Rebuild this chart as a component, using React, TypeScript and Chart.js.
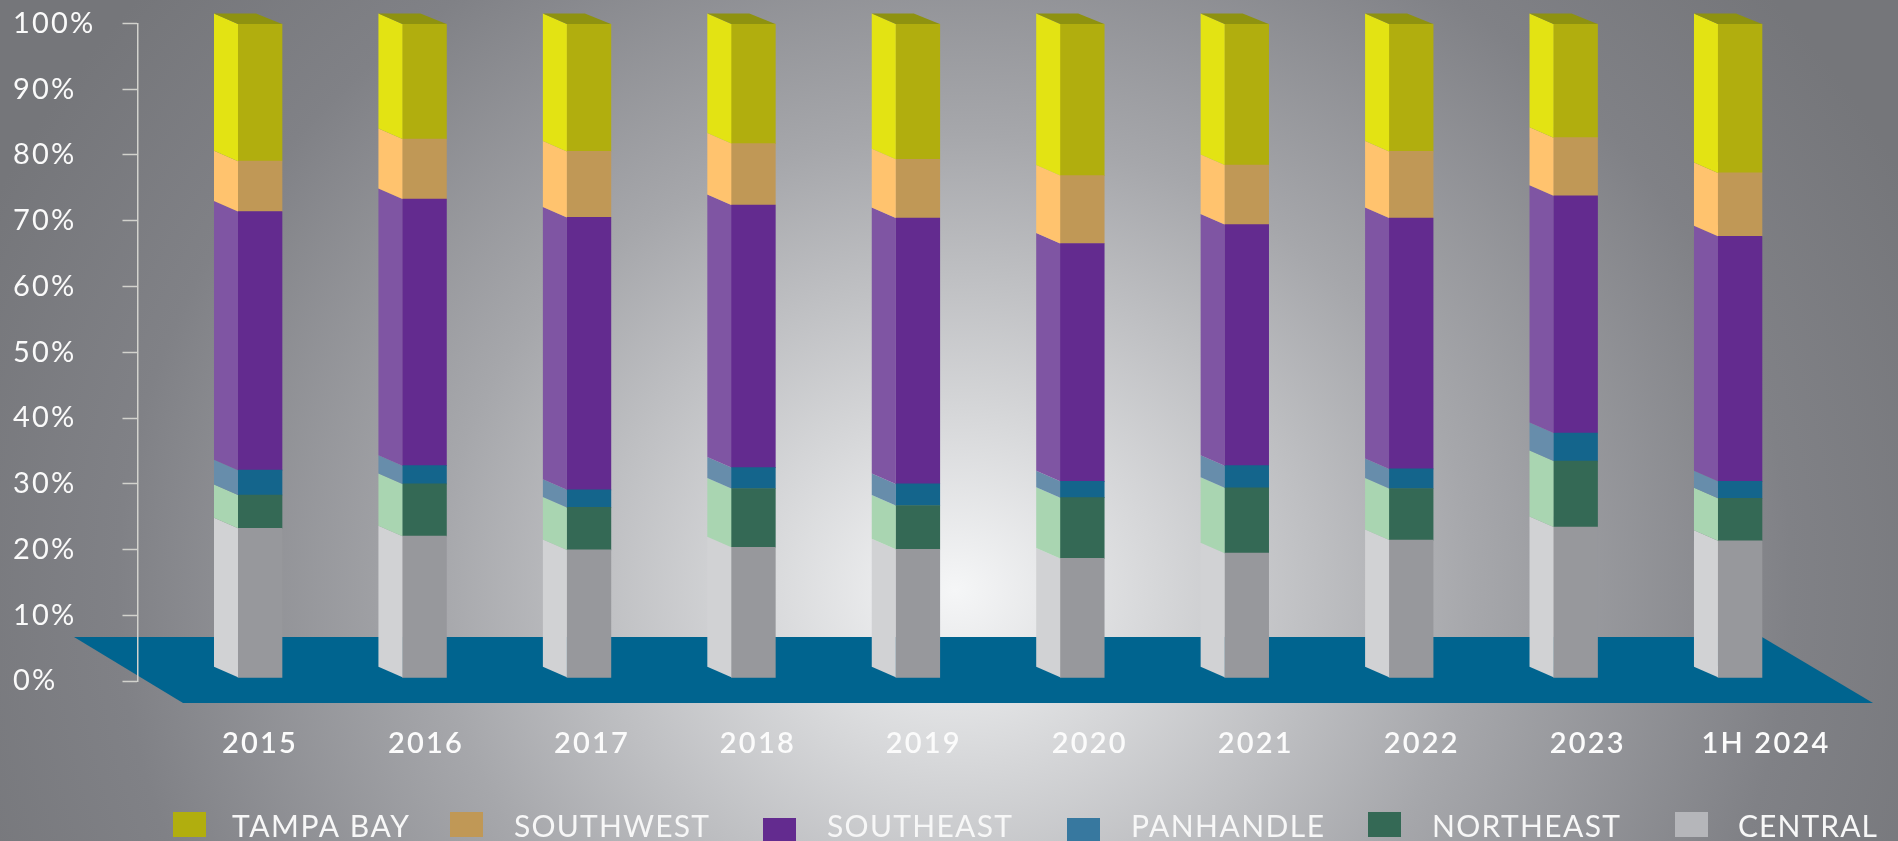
import React, { useEffect, useRef } from "react";
import { Chart, registerables } from "chart.js";

Chart.register(...registerables);

const categories = ["2015", "2016", "2017", "2018", "2019", "2020", "2021", "2022", "2023", "1H 2024"];
const central = [22.8, 21.6, 19.5, 19.9, 19.6, 18.2, 19.0, 21.0, 23.0, 20.9];
const northeast = [5.1, 8.0, 6.5, 9.0, 6.7, 9.3, 10.0, 7.9, 10.1, 6.5];
const panhandle = [3.8, 2.8, 2.7, 3.2, 3.3, 2.5, 3.4, 3.0, 4.3, 2.6];
const southeast = [39.6, 40.8, 41.7, 40.2, 40.7, 36.4, 36.9, 38.4, 36.3, 37.5];
const southwest = [7.7, 9.2, 10.1, 9.4, 9.0, 10.4, 9.1, 10.2, 8.9, 9.7];
const tampaBay = [21.0, 17.6, 19.5, 18.3, 20.7, 23.2, 21.6, 19.5, 17.4, 22.8];

const W = 1898;
const H = 841;
const SIDE_DX = 24;
const SIDE_DY = 10.5;

const series = [
  { label: "CENTRAL", values: central, front: "#97989c", side: "#d1d2d4" },
  { label: "NORTHEAST", values: northeast, front: "#346955", side: "#a9d5b1" },
  { label: "PANHANDLE", values: panhandle, front: "#14658c", side: "#678dab" },
  { label: "SOUTHEAST", values: southeast, front: "#632b8f", side: "#7f55a3" },
  { label: "SOUTHWEST", values: southwest, front: "#c09856", side: "#ffc36e" },
  { label: "TAMPA BAY", values: tampaBay, front: "#b1ae0e", side: "#e3e313" },
];

const legendLayout = [
  { text: "TAMPA BAY", color: "#b1ae0e", sx: 173, sy: 812, tx: 232, tw: 177 },
  { text: "SOUTHWEST", color: "#c09856", sx: 450, sy: 812, tx: 514, tw: 195 },
  { text: "SOUTHEAST", color: "#632b8f", sx: 763, sy: 818, tx: 827, tw: 185 },
  { text: "PANHANDLE", color: "#37789f", sx: 1067, sy: 818, tx: 1131, tw: 193 },
  { text: "NORTHEAST", color: "#346955", sx: 1368, sy: 812, tx: 1432, tw: 188 },
  { text: "CENTRAL", color: "#b5b6ba", sx: 1675, sy: 812, tx: 1738, tw: 139 },
];

const prism = {
  id: "prism",
  beforeDraw(chart: any) {
    const { ctx } = chart;
    ctx.save();
    ctx.fillStyle = "#00648f";
    ctx.beginPath();
    ctx.moveTo(74, 637);
    ctx.lineTo(1762, 637);
    ctx.lineTo(1873, 703);
    ctx.lineTo(183, 703);
    ctx.closePath();
    ctx.fill();
    ctx.restore();
    ctx.letterSpacing = "2.2px";
  },
  afterDatasetsDraw(chart: any) {
    const { ctx } = chart;
    ctx.save();
    chart.data.datasets.forEach((ds: any, di: number) => {
      chart.getDatasetMeta(di).data.forEach((bar: any) => {
        const left = bar.x - bar.width / 2;
        const right = bar.x + bar.width / 2;
        ctx.fillStyle = series[di].side;
        ctx.beginPath();
        ctx.moveTo(left - SIDE_DX, bar.y - SIDE_DY);
        ctx.lineTo(left, bar.y);
        ctx.lineTo(left, bar.base);
        ctx.lineTo(left - SIDE_DX, bar.base - SIDE_DY);
        ctx.closePath();
        ctx.fill();
        if (di === chart.data.datasets.length - 1) {
          ctx.fillStyle = "#8e9210";
          ctx.beginPath();
          ctx.moveTo(left - SIDE_DX, bar.y - SIDE_DY);
          ctx.lineTo(right - SIDE_DX - 2, bar.y - SIDE_DY);
          ctx.lineTo(right, bar.y);
          ctx.lineTo(left, bar.y);
          ctx.closePath();
          ctx.fill();
        }
      });
    });
    ctx.restore();
  },
  afterDraw(chart: any) {
    const { ctx } = chart;
    ctx.save();
    ctx.textAlign = "left";
    ctx.textBaseline = "alphabetic";
    ctx.font = '400 30px Lato, "Open Sans", sans-serif';
    legendLayout.forEach((item) => {
      ctx.fillStyle = item.color;
      ctx.fillRect(item.sx, item.sy, 33, item.sy === 812 ? 25 : 23);
      ctx.letterSpacing = "0px";
      const measured = ctx.measureText(item.text).width;
      ctx.letterSpacing = `${(item.tw - measured) / (item.text.length - 1)}px`;
      ctx.fillStyle = "#f7f7f7";
      ctx.fillText(item.text, item.tx, 837);
    });
    ctx.restore();
  },
};

export default function App() {
  const ref = useRef<HTMLCanvasElement>(null);
  useEffect(() => {
    document.body.style.margin = "0";
    const chart = new Chart(ref.current!, {
      type: "bar",
      plugins: [prism],
      data: {
        labels: categories,
        datasets: series.map((s) => ({
          label: s.label,
          data: s.values.map((v, i) => ({ x: i, y: v })),
          backgroundColor: s.front,
          borderWidth: 0,
          barThickness: 44,
          xAxisID: "xb",
          yAxisID: "yb",
        })),
      },
      options: {
        responsive: false,
        animation: false,
        devicePixelRatio: 1,
        layout: { padding: { left: 13, top: 23.5, right: 0, bottom: 0 } },
        plugins: { legend: { display: false }, tooltip: { enabled: false }, title: { display: false } },
        scales: {
          xb: { type: "linear", display: false, stacked: true, offset: false, min: -0.7419, max: 9.961 },
          yb: { type: "linear", display: false, stacked: true, min: -0.567, max: 100.077 },
          x: {
            type: "linear",
            position: "bottom",
            offset: false,
            min: -0.735,
            max: 9.8696,
            grid: { display: false, offset: false },
            border: { display: false },
            afterFit: (s: any) => { s.height = 160; },
            afterBuildTicks: (s: any) => {
              s.ticks = [0, 1, 2, 3, 4, 5, 6, 7, 8, 9.074].map((value) => ({ value }));
            },
            ticks: {
              autoSkip: false,
              maxRotation: 0,
              minRotation: 0,
              padding: 37,
              color: "#fbfbfb",
              font: { family: 'Lato, "Open Sans", sans-serif', size: 29, weight: "600" },
              callback: (_v: any, i: number) => categories[i],
            },
          },
          y: {
            type: "linear",
            position: "left",
            min: 0,
            max: 100,
            afterFit: (s: any) => { s.width = 125; },
            grid: { drawOnChartArea: false, drawTicks: true, tickLength: 15.5, tickColor: "#d2d2cd", tickWidth: 1.5 },
            border: { display: true, color: "#d2d2cd", width: 1.5 },
            ticks: {
              stepSize: 10,
              crossAlign: "far",
              padding: 4,
              color: "#fafafa",
              font: { family: 'Lato, "Open Sans", sans-serif', size: 29, weight: "400" },
              callback: (v: any) => `${v}%`,
            },
          },
        },
      },
    } as any);
    return () => chart.destroy();
  }, []);
  return (
    <div
      style={{
        position: "relative",
        width: W,
        height: H,
        overflow: "hidden",
        background:
          "radial-gradient(ellipse 1060px 930px at 955px 590px, #f5f6f7 0px, #d6d7d9 19%, #a6a7ab 49%, #808186 79%, #75767a 100%)",
      }}
    >
      <canvas ref={ref} width={W} height={H} style={{ display: "block" }} />
    </div>
  );
}
